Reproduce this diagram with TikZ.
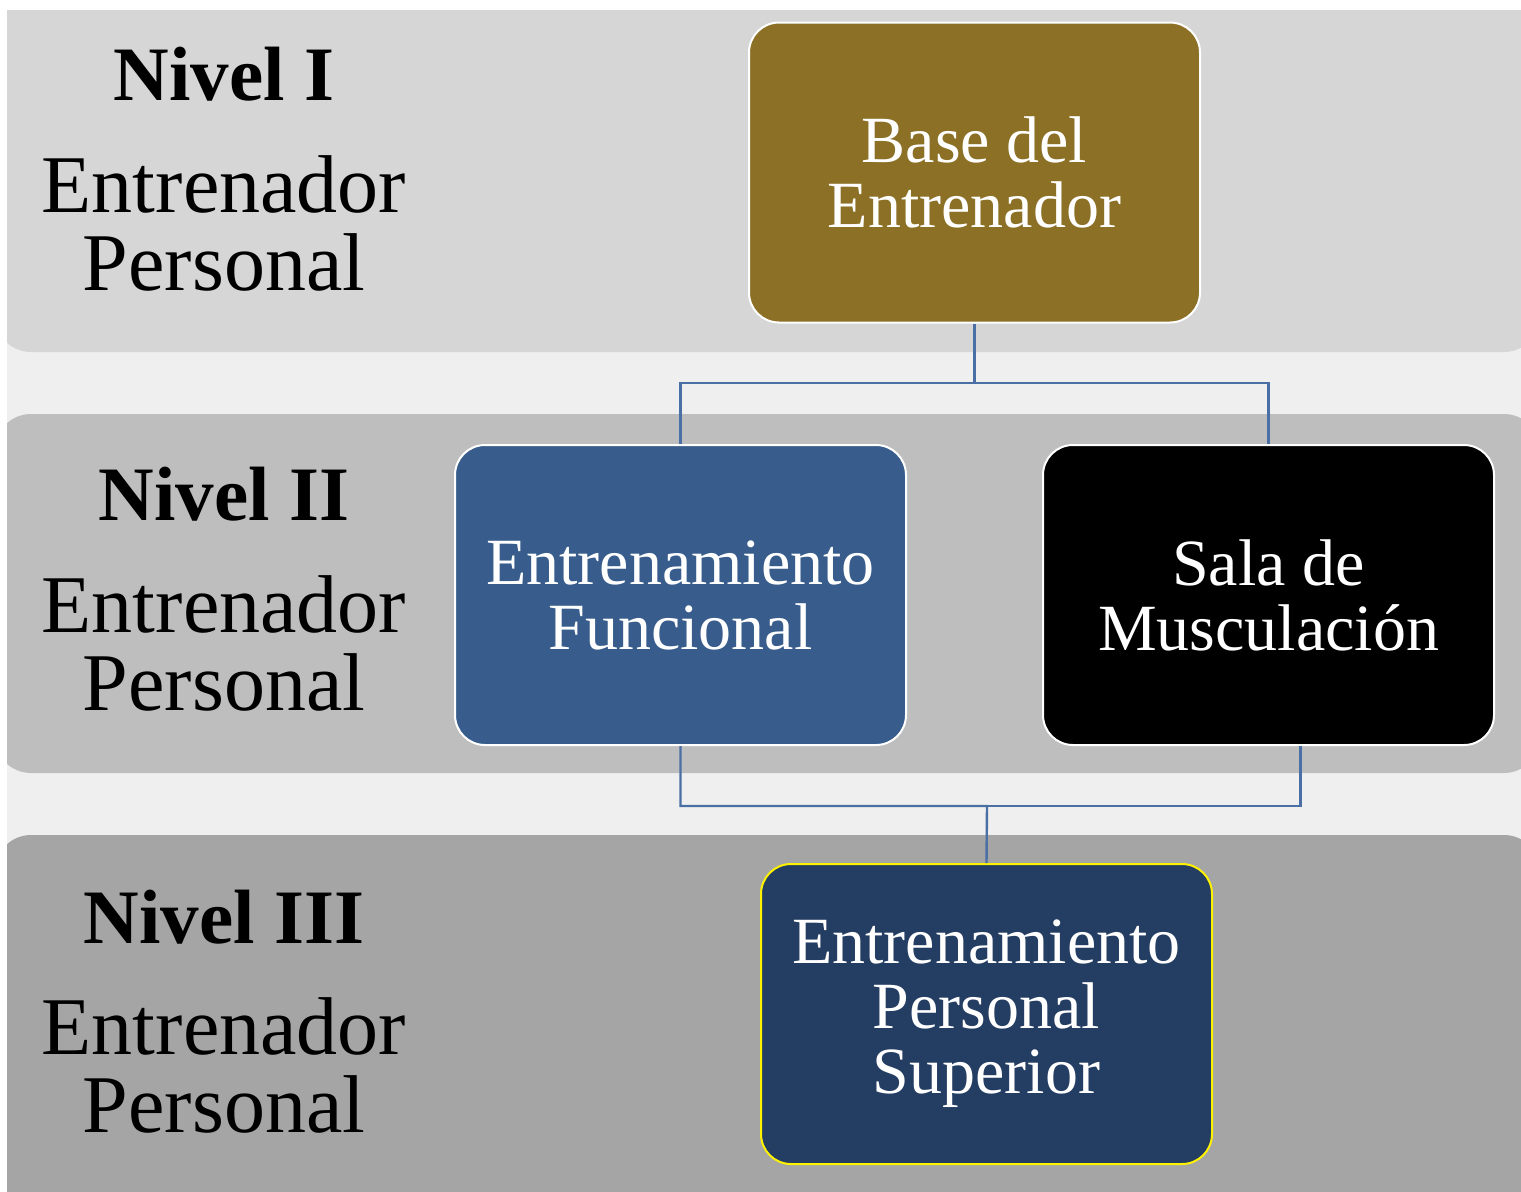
\documentclass[tikz,border=0pt]{standalone}
\usepackage{fontspec}
\setmainfont{Liberation Serif}
\usepackage{xcolor}
\usepackage{tikz}
\usetikzlibrary{calc,positioning}
\definecolor{nvgap}{HTML}{EFEFEF}
\definecolor{nvrowa}{HTML}{D6D6D6}
\definecolor{nvrowb}{HTML}{BEBEBE}
\definecolor{nvrowc}{HTML}{A5A5A5}
\definecolor{nvgold}{HTML}{8B7025}
\definecolor{nvblue}{HTML}{385D8C}
\definecolor{nvnavy}{HTML}{243D62}
\definecolor{nvline}{HTML}{4A6FA5}
\tikzset{
    levelhead/.style={anchor=base, inner sep=0pt, font=\fontsize{38.5pt}{40pt}\selectfont\bfseries},
    levelname/.style={anchor=base, inner sep=0pt, align=center, font=\fontsize{41pt}{39pt}\selectfont},
    trainbox/.style={rounded corners=15pt, draw=white, line width=1pt, minimum width=225.5pt,
        minimum height=150pt, align=center, text=white, font=\fontsize{33pt}{32.5pt}\selectfont},
    link/.style={color=nvline, line width=1.2pt}
}

\begin{document}
\begin{tikzpicture}[x=0.5pt, y=-0.5pt]
        % Page and gap colour
        \fill[white] (0, 0) rectangle (1521, 1191);
        \fill[nvgap] (7, 10) rectangle (1521, 1191);

        % ----------------------------------------------------
        % LEVEL BANDS
        % ----------------------------------------------------
        \begin{scope}
            \clip (7, 10) rectangle (1521, 1191);
            \fill[nvrowa, rounded corners=18pt] (-5, -40) rectangle (1540, 352);
            \fill[nvrowb, rounded corners=18pt] (-5, 414) rectangle (1540, 773);
            \fill[nvrowc, rounded corners=18pt] (-5, 835) rectangle (1540, 1240);
        \end{scope}

        % ----------------------------------------------------
        % NIVEL I
        % ----------------------------------------------------
        \node[levelhead] (headone) at (224, 100) {Nivel I};
        \node[levelname] (nameone) at (224, 290) {Entrenador\\Personal};
        \node[trainbox, fill=nvgold] (base) at (974.5, 172.5) {Base del\\Entrenador};

        % ----------------------------------------------------
        % NIVEL II
        % ----------------------------------------------------
        \node[levelhead] (headtwo) at (224, 520) {Nivel II};
        \node[levelname] (nametwo) at (224, 710) {Entrenador\\Personal};
        \node[trainbox, fill=nvblue] (func) at (680.5, 595) {Entrenamiento\\Funcional};
        \node[trainbox, fill=black] (sala) at (1268.5, 595) {Sala de\\Musculación};

        % ----------------------------------------------------
        % NIVEL III
        % ----------------------------------------------------
        \node[levelhead] (headthree) at (224, 943) {Nivel III};
        \node[levelname] (namethree) at (224, 1132) {Entrenador\\Personal};
        \node[trainbox, fill=nvnavy, draw=yellow] (sup) at (986.5, 1014)
            {Entrenamiento\\Personal\\Superior};

        % ----------------------------------------------------
        % CONNECTORS
        % ----------------------------------------------------
        \coordinate (split) at (974.5, 383);
        \coordinate (join) at (987, 806);
        \draw[link] (base.south) -- (split) -| (func.north);
        \draw[link] (split) -| (sala.north);
        \draw[link] (func.south) |- (join) -- (sup.north);
        \draw[link] ([xshift=16pt]sala.south) |- (join);
    \end{tikzpicture}
\end{document}
